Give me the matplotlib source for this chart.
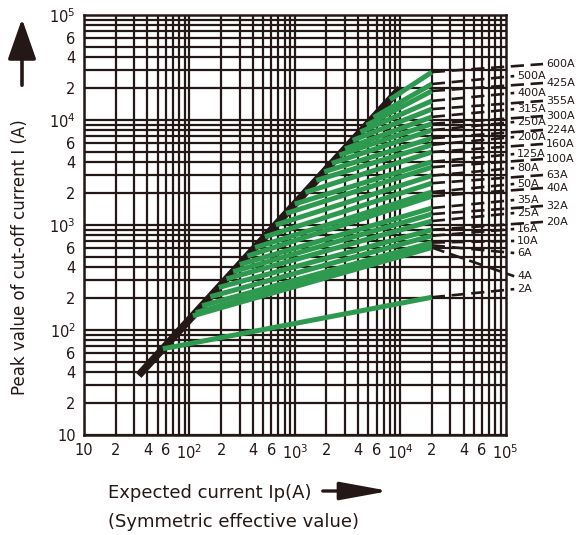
import numpy as np
import matplotlib
matplotlib.use("Agg")
import matplotlib.pyplot as plt
from matplotlib.ticker import FixedLocator, NullLocator

plt.rcParams['font.family'] = ['DejaVu Sans']

# ---------------- data ----------------
ratings = [600, 500, 425, 400, 355, 315, 300, 250, 224, 200, 160, 125, 100,
           80, 63, 50, 40, 35, 32, 25, 20, 16, 10, 6, 4, 2]
# prospective current where each fuse curve leaves the envelope line (A)
start_ip = [8000, 5600, 4800, 4200, 3550, 3000, 2650, 2250, 1900, 1600, 1260,
            1000, 830, 660, 520, 420, 355, 300, 260, 225, 190, 158, 132, 115, 108, 56]
# cut-off peak at the end of each curve (Ip = 2e4 A)
end_peak = [28600, 22000, 18900, 15200, 12700, 10700, 9200, 8000, 6700, 5800,
            4950, 4000, 3550, 2950, 2500, 2060, 1880, 1450, 1270, 1090, 900,
            790, 680, 640, 610, 205]
end_ip = 2e4
# label anchor values (peak-current level of each label)
label_peak = [34100, 26200, 22500, 18100, 15200, 12700, 10900, 9570, 8040, 6890,
              5910, 4740, 4250, 3490, 2990, 2460, 2250, 1730, 1520, 1300, 1070,
              916, 705, 541, 325, 245]
left_col = {500, 400, 315, 250, 200, 125, 80, 50, 35, 25, 16, 10, 6, 4, 2}

# envelope (unlimited) line
env_ip = [33, 10000]
env_peak = [37, 20000]

xticks = [10, 20, 40, 60, 100, 200, 400, 600, 1000, 2000, 4000, 6000, 10000,
          20000, 40000, 60000, 100000]
xticklabels = ['10', '2', '4', '6', r'$\mathregular{10^2}$', '2', '4', '6',
               r'$\mathregular{10^3}$', '2', '4', '6', r'$\mathregular{10^4}$',
               '2', '4', '6', r'$\mathregular{10^5}$']
yticks = xticks
yticklabels = xticklabels

# ---------------- figure ----------------
W, H = 579, 535
fig = plt.figure(figsize=(W / 100, H / 100), dpi=100)
ax = fig.add_axes([84 / W, (H - 435) / H, (505.5 - 84) / W, (435 - 15) / H])
ax.set_xscale('log')
ax.set_yscale('log')
ax.set_xlim(10, 1e5)
ax.set_ylim(10, 1e5)

ink = '#231815'
green = '#2e9a50'

# grid
for d in [10, 100, 1000, 10000]:
    for m in range(1, 10):
        v = d * m
        ax.axvline(v, color=ink, lw=1.6, zorder=1)
        ax.axhline(v, color=ink, lw=1.6, zorder=1)
for s in ax.spines.values():
    s.set_color(ink)
    s.set_linewidth(1.8)

ax.xaxis.set_major_locator(FixedLocator(xticks))
ax.xaxis.set_minor_locator(NullLocator())
ax.yaxis.set_major_locator(FixedLocator(yticks))
ax.yaxis.set_minor_locator(NullLocator())
ax.set_xticklabels(xticklabels)
ax.set_yticklabels(yticklabels)
ax.tick_params(axis='both', length=0, labelsize=10.5, colors=ink)
ax.tick_params(axis='x', pad=6)
ax.tick_params(axis='y', pad=6)

# envelope line
ax.plot(env_ip, env_peak, color=ink, lw=5.5, solid_capstyle='butt', zorder=3)

# fuse curves
env_slope = (np.log10(env_peak[1]) - np.log10(env_peak[0])) / (np.log10(env_ip[1]) - np.log10(env_ip[0]))
for r, sx, ep, lp in zip(ratings, start_ip, end_peak, label_peak):
    sy = 10 ** (np.log10(env_peak[0]) + env_slope * (np.log10(sx) - np.log10(env_ip[0])))
    ax.plot([sx, end_ip], [sy, ep], color=green, lw=3.6, solid_capstyle='butt', zorder=4)
    xend = 1.21e5 if r in left_col else 2.27e5
    ax.plot([end_ip, xend], [ep, lp], color=ink, lw=1.9, ls=(0, (5, 2.5)),
            clip_on=False, zorder=5)
    ax.text(xend * 1.07, lp, f'{r}A', fontsize=8, color=ink, va='center', ha='left')

# axis titles
fig.text(20 / W, 1 - 257 / H, 'Peak value of cut-off current I (A)', rotation=90,
         ha='center', va='center', fontsize=12, color=ink)
fig.text(108 / W, 1 - 493 / H, 'Expected current Ip(A)', ha='left', va='center',
         fontsize=13, color=ink)
fig.text(108 / W, 1 - 522 / H, '(Symmetric effective value)', ha='left', va='center',
         fontsize=13, color=ink)

# arrows
fig.add_artist(matplotlib.patches.FancyArrowPatch(
    (22 / W, 1 - 88 / H), (22 / W, 1 - 16 / H), transform=fig.transFigure,
    arrowstyle='-|>,head_length=10,head_width=3.5', color=ink, lw=2.6, mutation_scale=2.5))
fig.add_artist(matplotlib.patches.FancyArrowPatch(
    (320 / W, 1 - 491 / H), (392 / W, 1 - 491 / H), transform=fig.transFigure,
    arrowstyle='-|>,head_length=12,head_width=2.2', color=ink, lw=2.4, mutation_scale=2.5))

fig.savefig('out.png', dpi=100)
